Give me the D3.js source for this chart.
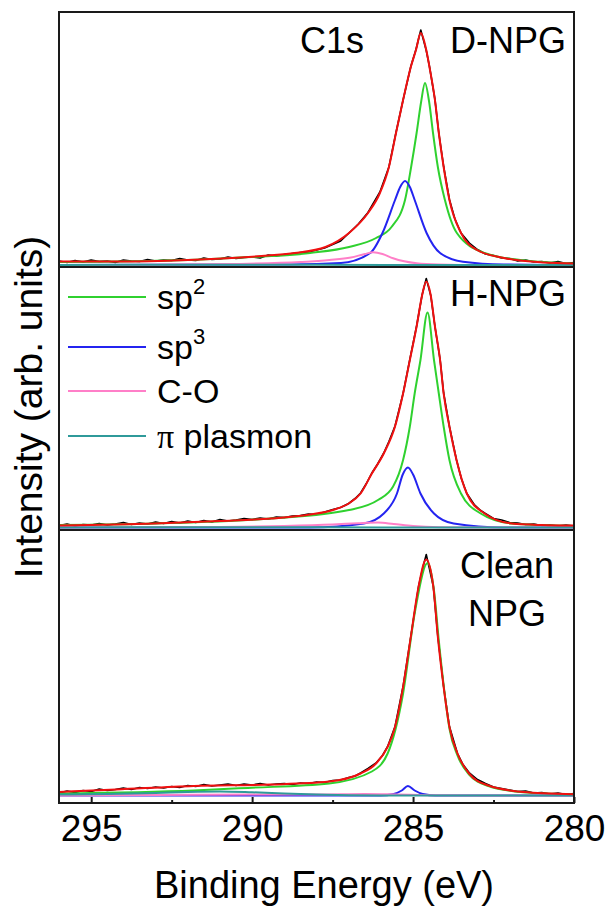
<!DOCTYPE html>
<html>
<head>
<meta charset="utf-8">
<script src="https://cdn.jsdelivr.net/npm/d3@7/dist/d3.min.js"></script>
<style>
  html, body { margin: 0; padding: 0; background: #fff; }
  svg { display: block; }
  text { font-family: Arial, "Liberation Sans", sans-serif; fill: #000; }
</style>
</head>
<body>
<svg id="chart" width="607" height="907"></svg>
<script>
// ---------------- DATA (binding energy in eV, intensity in arb. units) ----------------
const majorTicks = [295, 290, 285, 280];
const minorTicks = [292.5, 287.5, 282.5];
const sampleNames = ["D-NPG", "H-NPG", "Clean NPG"];
const componentNames = ["sp2", "sp3", "C-O", "π plasmon"];

// D-NPG
const dExp = [[296,4],[295.75,2.5],[295.5,4.5],[295.25,3],[295,5],[294.75,3.5],[294.5,4],[294.25,2.5],[294,5],[293.75,4],[293.5,3.5],[293.25,5.5],[293,4],[292.75,5],[292.5,4.5],[292.25,6.5],[292,5],[291.75,4.5],[291.5,7],[291.25,5.5],[291,6],[290.75,8],[290.5,6.5],[290.25,7.5],[290,8],[289.75,7],[289.5,10],[289.25,9],[289,10.5],[288.75,11.5],[288.5,12.5],[288.25,13],[288,15],[287.75,17],[287.5,20.5],[287.25,24],[286.99,32],[286.7,41],[286.4,52.5],[286.03,73],[285.75,98],[285.53,132.5],[285.31,165],[285.07,198.5],[284.91,215.5],[284.76,235],[284.59,214.5],[284.49,198.5],[284.32,165.5],[284.2,132],[284.05,98.5],[283.87,65.5],[283.7,46],[283.51,32],[283.25,22],[283,15.5],[282.75,11],[282.5,9.5],[282.25,7],[282,6.5],[281.75,4],[281.5,5],[281.25,3],[281,3.5],[280.75,2],[280.5,3.5],[280.25,1.5],[280,2.5]];
const dFit = [[296,3.5],[294.23,3.5],[292,5],[290.63,7],[289.5,9.5],[288.68,12],[287.72,18],[286.99,32],[286.4,52],[286.03,72],[285.75,98],[285.53,132],[285.31,165],[285.07,198],[284.91,215],[284.76,232],[284.59,215],[284.49,198],[284.32,165],[284.2,132],[284.05,98],[283.87,65],[283.51,32],[283.01,15],[282.18,7],[280.96,2.5],[280,1.5]];
const dSp2 = [[296,3],[292,5],[290.63,7],[288.2,12],[286.99,18],[286.15,27],[285.67,38],[285.25,65],[285.06,98],[284.89,132],[284.75,163],[284.63,182],[284.5,163],[284.38,132],[284.23,98],[284.01,65],[283.64,32],[282.78,12],[281.59,4.7],[280,1.5]];
const dSp3 = [[296,0],[288.82,0.5],[287.24,2],[286.33,12],[285.95,32],[285.56,65],[285.4,78],[285.25,84],[285.1,78],[284.95,65],[284.58,32],[284.16,12],[283.45,3.3],[282.18,0.5],[280,0]];
const dCO = [[296,0],[293,0.3],[290.6,1],[288.5,3],[287.6,5],[286.93,7.5],[286.5,11],[286.24,12.7],[285.95,11],[285.62,6.7],[284.89,1.7],[284.2,0.5],[282.9,0],[280,0]];
const dPlasmon = [[296,0],[292,0.3],[288,0.2],[284,0],[280,0]];

// H-NPG
const hExp = [[296,2],[295.75,3.5],[295.5,1.5],[295.25,3],[295,2.5],[294.75,4],[294.5,2.5],[294.25,3.5],[294,5],[293.75,3],[293.5,4.5],[293.25,3.5],[293,5.5],[292.75,4],[292.5,6],[292.25,4.5],[292,6.5],[291.75,5],[291.5,7],[291.25,5.5],[291,8],[290.75,6.5],[290.5,7.5],[290.25,9],[290,8],[289.75,9.5],[289.5,8.5],[289.25,10.5],[289,10],[288.75,11.5],[288.5,12],[288.25,13.5],[288,13],[287.75,15.5],[287.49,18],[287.25,20],[287,24],[286.8,29],[286.63,34.5],[286.45,44],[286.28,54.5],[286.1,63.5],[285.91,74.5],[285.75,86],[285.56,101.5],[285.31,134],[285.1,168],[284.89,201.5],[284.72,232.5],[284.59,249],[284.45,232],[284.32,201],[284.16,168],[284.05,134.5],[283.87,101],[283.65,67.5],[283.5,49],[283.33,34],[283.1,23],[282.9,17],[282.78,14.5],[282.5,9],[282.25,7.5],[282,5],[281.75,4.5],[281.5,3],[281.25,3.5],[281,2],[280.75,2.5],[280.5,1.5],[280.25,2.5],[280,1.5]];
const hFit = [[296,2],[293.02,4],[291,6.5],[289.41,9],[288.2,13],[287.49,17.5],[287,24],[286.63,34],[286.28,54],[285.91,74],[285.56,101],[285.31,134],[285.1,167.5],[284.89,201],[284.72,232],[284.59,246],[284.45,232],[284.32,201],[284.16,167.5],[284.05,134],[283.87,101],[283.65,67.5],[283.33,34],[282.78,14],[281.94,4],[281,2.5],[280,2]];
const hSp2 = [[296,2.5],[293,4],[289.41,9],[286.99,17.5],[286.09,27.5],[285.62,41],[285.31,67.5],[285.1,101],[284.95,134],[284.77,167.5],[284.55,215],[284.35,167.5],[284.2,134],[284.05,101],[283.87,67.5],[283.51,34],[282.9,14],[281.94,4],[280,1.5]];
const hSp3 = [[296,0],[288.2,0],[286.53,4],[285.91,14],[285.5,34],[285.32,53],[285.16,60],[285.0,53],[284.77,34],[284.35,14],[283.74,4],[282.18,0],[280,0]];
const hCO = [[296,0],[291,0.5],[289,1.5],[287.5,3],[286.7,4.3],[286.09,5],[285.6,3.5],[285,1.5],[284.2,0.3],[283,0],[280,0]];
const hPlasmon = [[296,0],[292,0.2],[288,0.2],[284,0],[280,0]];

// Clean NPG
const cExp = [[296,2.5],[295.75,4.5],[295.5,3],[295.25,5],[295,4],[294.75,6.5],[294.5,5],[294.25,6],[294,7.5],[293.75,6],[293.5,8],[293.25,7],[293,8.5],[292.75,7.5],[292.5,9],[292.25,8],[292,10],[291.75,9],[291.5,11],[291.25,9.5],[291,10.5],[290.75,11.5],[290.5,10],[290.25,11.5],[290,10.5],[289.75,12],[289.5,10.5],[289.25,11.5],[289,12],[288.75,11],[288.5,12.5],[288.25,12],[288,13.5],[287.75,13],[287.5,15],[287.25,15.5],[287,18],[286.8,19.5],[286.63,22.5],[286.4,27],[286.15,32.5],[285.95,40],[285.79,49],[285.56,69],[285.31,109],[285.07,159],[284.83,209],[284.68,230],[284.59,241],[284.5,228],[284.37,209],[284.23,159],[284.05,109],[283.87,69],[283.62,42],[283.45,31],[283.26,23],[283,16],[282.75,12],[282.5,8.5],[282.25,7],[282,5.5],[281.75,4],[281.5,4.5],[281.25,2.5],[281,3],[280.75,1.5],[280.5,2.5],[280.25,1],[280,2]];
const cFit = [[296,3.6],[294.23,6],[291.81,9.6],[289.41,11],[287.61,14],[286.63,22],[286.15,32],[285.79,48.6],[285.56,68.6],[285.31,108.6],[285.07,158.6],[284.83,208.6],[284.59,236],[284.37,208.6],[284.23,158.6],[284.05,108.6],[283.87,68.6],[283.62,42],[283.26,22],[282.66,10],[281.59,3.6],[280,1.3]];
const cSp2 = [[296,2],[291.81,5],[290.13,7.6],[287.61,12],[286.28,24],[285.79,42],[285.31,102],[284.95,182],[284.55,232.6],[284.35,205],[284.2,155],[284.03,105],[283.87,67],[283.62,40],[283.26,21],[282.66,9.5],[281.59,3.3],[280,1]];
const cSp3 = [[296,0],[286,0],[285.6,1.5],[285.35,5],[285.16,9.5],[284.95,5],[284.7,1.5],[284.3,0],[280,0]];
const cCO = [[296,0],[293,0.5],[290,1],[288,1],[286.5,1.5],[285.5,1],[284.5,0.3],[283,0],[280,0]];
const cPlasmon = [[296,1],[294.5,1.5],[293,2.5],[292,3.5],[291,4],[290,3.2],[289,2],[288,1],[287,0.3],[286,0],[280,0]];

// ---------------- LAYOUT / STYLE ----------------
const W = 607, H = 907;
const L = 59, R = 574;
const panels = [
  { name: sampleNames[0], top: 12,  bottom: 267, base: 265,   exp: dExp, fit: dFit, comps: [dSp2, dSp3, dCO, dPlasmon] },
  { name: sampleNames[1], top: 267, bottom: 530, base: 527.5, exp: hExp, fit: hFit, comps: [hSp2, hSp3, hCO, hPlasmon] },
  { name: sampleNames[2], top: 530, bottom: 803, base: 795.5, exp: cExp, fit: cFit, comps: [cSp2, cSp3, cCO, cPlasmon] }
];
const compColors = ["#2fd12f", "#2424f0", "#ff7fc8", "#2f9a9a"];
const fitColor = "#f01010";
const expColor = "#000";
const frameColor = "#1a1a1a";

const svg = d3.select("#chart");
svg.append("rect").attr("width", W).attr("height", H).attr("fill", "#fff");

const x = d3.scaleLinear().domain([296, 280]).range([L, R]);

panels.forEach((p, i) => {
  const y = d3.scaleLinear().domain([0, 250]).range([p.base, p.base - 250]);
  const g = svg.append("g");
  const clipId = "clip" + i;
  svg.append("clipPath").attr("id", clipId).append("rect")
    .attr("x", L).attr("y", p.top).attr("width", R - L).attr("height", p.bottom - p.top);
  const pg = g.append("g").attr("clip-path", `url(#${clipId})`);

  const smooth = d3.line().x(d => x(d[0])).y(d => y(d[1])).curve(d3.curveMonotoneX);
  const raw = d3.line().x(d => x(d[0])).y(d => y(d[1])).curve(d3.curveLinear);

  pg.append("path").datum(p.exp).attr("d", raw)
    .attr("fill", "none").attr("stroke", expColor).attr("stroke-width", 1.6).attr("stroke-linejoin", "round");
  p.comps.forEach((c, k) => {
    pg.append("path").datum(c).attr("d", smooth)
      .attr("fill", "none").attr("stroke", compColors[k]).attr("stroke-width", 2);
  });
  pg.append("path").datum(p.fit).attr("d", smooth)
    .attr("fill", "none").attr("stroke", fitColor).attr("stroke-width", 2);

  g.append("rect").attr("x", L).attr("y", p.top).attr("width", R - L).attr("height", p.bottom - p.top)
    .attr("fill", "none").attr("stroke", frameColor).attr("stroke-width", 2);
});

// bottom axis with inward ticks
const axisG = svg.append("g").attr("transform", `translate(0,${panels[2].bottom})`);
axisG.call(d3.axisBottom(x).tickValues(majorTicks).tickSizeInner(-6).tickSizeOuter(0).tickPadding(12).tickFormat(d3.format("d")));
axisG.select(".domain").remove();
axisG.selectAll(".tick line").attr("stroke", frameColor).attr("stroke-width", 2);
axisG.selectAll(".tick text").attr("font-size", 37).attr("font-family", "Arial, 'Liberation Sans', sans-serif").attr("fill", "#000");
const minorG = svg.append("g").attr("transform", `translate(0,${panels[2].bottom})`);
minorG.call(d3.axisBottom(x).tickValues(minorTicks).tickSizeInner(-3).tickSizeOuter(0).tickFormat(""));
minorG.select(".domain").remove();
minorG.selectAll(".tick line").attr("stroke", frameColor).attr("stroke-width", 2);

// annotations
svg.append("text").attr("x", 300).attr("y", 53).attr("font-size", 36).text("C1s");
svg.append("text").attr("x", 566).attr("y", 53).attr("font-size", 36).attr("text-anchor", "end").text(panels[0].name);
svg.append("text").attr("x", 566).attr("y", 306).attr("font-size", 36).attr("text-anchor", "end").text(panels[1].name);
const cleanParts = panels[2].name.split(" ");
svg.append("text").attr("x", 507).attr("y", 578).attr("font-size", 36).attr("text-anchor", "middle").text(cleanParts[0]);
svg.append("text").attr("x", 507).attr("y", 626).attr("font-size", 36).attr("text-anchor", "middle").text(cleanParts[1]);

// legend
const legY = [297, 347, 391, 436];
componentNames.forEach((n, k) => {
  svg.append("line").attr("x1", 68).attr("x2", 146).attr("y1", legY[k]).attr("y2", legY[k])
    .attr("stroke", compColors[k]).attr("stroke-width", 2);
  const t = svg.append("text").attr("x", 157).attr("y", legY[k] + 11.5).attr("font-size", 34);
  if (n.startsWith("sp")) {
    t.append("tspan").text("sp");
    t.append("tspan").attr("font-size", 22).attr("dy", -15).text(n.slice(2));
  } else if (n.startsWith("π")) {
    t.append("tspan").attr("font-family", "'Liberation Serif', 'Times New Roman', serif").text("π");
    t.append("tspan").text(n.slice(1));
  } else {
    t.text(n);
  }
});

// axis titles
svg.append("text").attr("x", 324).attr("y", 898).attr("font-size", 38).attr("text-anchor", "middle").text("Binding Energy (eV)");
svg.append("text").attr("transform", "translate(42,407) rotate(-90)").attr("font-size", 39).attr("text-anchor", "middle").text("Intensity (arb. units)");
</script>
</body>
</html>
